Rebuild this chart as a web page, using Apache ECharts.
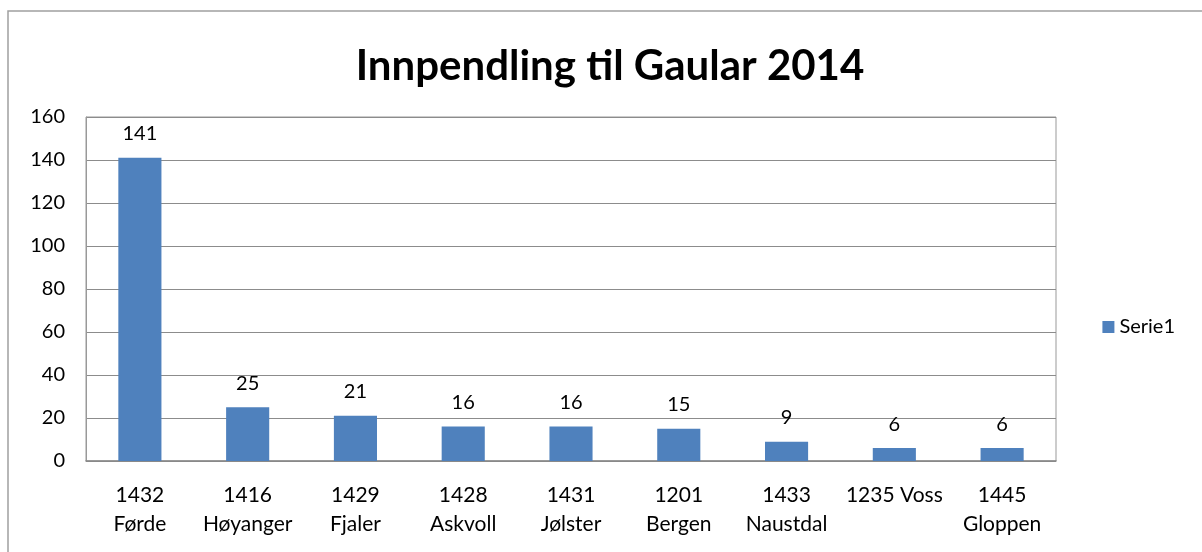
<!DOCTYPE html>
<html><head><meta charset="utf-8">
<script src="https://cdn.jsdelivr.net/npm/echarts@6/dist/echarts.min.js"></script>
<style>html,body{margin:0;padding:0;background:#fff}#c{width:1202px;height:552px}</style>
</head><body><div id="c"></div>
<script>
const categories = ["1432\nFørde","1416\nHøyanger","1429\nFjaler","1428\nAskvoll","1431\nJølster","1201\nBergen","1433\nNaustdal","1235 Voss","1445\nGloppen"];
const values = [141,25,21,16,16,15,9,6,6];
const seriesName = "Serie1";
const titleText = "Innpendling til Gaular 2014";
const yMin = 0, yMax = 160, yStep = 20;

const chart = echarts.init(document.getElementById('c'));
const FONT = 'Lato, "Open Sans", sans-serif';
chart.setOption({
  animation:false,
  backgroundColor:'#fff',
  graphic:[{type:'rect',shape:{x:8,y:11,width:1220,height:560},style:{fill:'none',stroke:'#a0a0a0',lineWidth:1.5},silent:true}],
  title:{text:titleText,left:605,top:40,textAlign:'center',textStyle:{fontFamily:FONT,fontWeight:'bold',fontSize:42,color:'#000'}},
  legend:{right:22,top:312,orient:'vertical',itemWidth:12,itemHeight:12,itemGap:8,textStyle:{fontFamily:FONT,fontSize:20,color:'#000'},data:[{name:seriesName,icon:'rect'}]},
  grid:{left:86,top:117,right:146,bottom:91,containLabel:false,show:true,borderColor:'#999',borderWidth:1},
  xAxis:{type:'category',data:categories,axisLine:{lineStyle:{color:'#888',width:1.5}},axisTick:{show:false},
    axisLabel:{interval:0,margin:20,fontFamily:FONT,fontSize:21,lineHeight:29,color:'#000'}},
  yAxis:{type:'value',min:yMin,max:yMax,interval:yStep,axisLine:{show:true,lineStyle:{color:'#999'}},axisTick:{show:false},
    axisLabel:{margin:21,fontFamily:FONT,fontSize:20,color:'#000'},
    splitLine:{lineStyle:{color:'#8c8c8c',width:1}}},
  series:[{name:seriesName,type:'bar',data:values,barWidth:'40%',itemStyle:{color:'#4F81BD'},
    label:{show:true,position:'top',distance:14,fontFamily:FONT,fontSize:20,color:'#000'}}]
});
</script></body></html>
